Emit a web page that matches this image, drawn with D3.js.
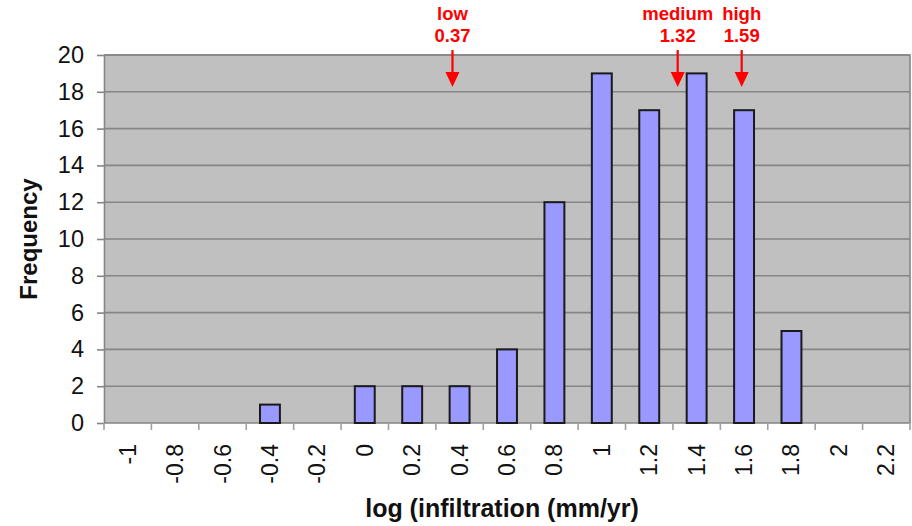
<!DOCTYPE html>
<html>
<head>
<meta charset="utf-8">
<script src="https://cdn.jsdelivr.net/npm/d3@7"></script>
<style>
  html, body { margin: 0; padding: 0; background: #fff; }
  svg { display: block; font-family: "Liberation Sans", Arial, sans-serif; }
</style>
</head>
<body>
<svg id="chart" width="912" height="526"></svg>
<script>
// Histogram bins (log of infiltration, mm/yr) and their counts
const categories = ["-1", "-0.8", "-0.6", "-0.4", "-0.2", "0", "0.2", "0.4", "0.6", "0.8", "1", "1.2", "1.4", "1.6", "1.8", "2", "2.2"];
const frequency  = [0, 0, 0, 1, 0, 2, 2, 2, 4, 12, 19, 17, 19, 17, 5, 0, 0];
const yTicks = [0, 2, 4, 6, 8, 10, 12, 14, 16, 18, 20];

// Marked infiltration scenarios
const markerNames  = ["low", "medium", "high"];
const markerValues = [0.37, 1.32, 1.59];

const svg = d3.select("#chart");
const plot = { left: 104, right: 910, top: 55, bottom: 423 };

const x = d3.scaleBand()
  .domain(categories)
  .range([plot.left, plot.right])
  .paddingInner(0).paddingOuter(0);

const y = d3.scaleLinear().domain([0, 20]).range([plot.bottom, plot.top]);

// Continuous position along the binned axis (bin centres)
const xVal = d3.scaleLinear()
  .domain([+categories[0], +categories[categories.length - 1]])
  .range([x(categories[0]) + x.bandwidth() / 2,
          x(categories[categories.length - 1]) + x.bandwidth() / 2]);

// Plot background
svg.append("rect")
  .attr("x", plot.left).attr("y", plot.top)
  .attr("width", plot.right - plot.left).attr("height", plot.bottom - plot.top)
  .attr("fill", "#c0c0c0");

// Horizontal gridlines
svg.append("g").selectAll("line")
  .data(yTicks.filter(d => d > 0))
  .join("line")
  .attr("x1", plot.left).attr("x2", plot.right)
  .attr("y1", d => y(d)).attr("y2", d => y(d))
  .attr("stroke", "#858585").attr("stroke-width", 1.6);

// Plot frame (top / right)
svg.append("path")
  .attr("d", `M${plot.left},${plot.top}H${plot.right}V${plot.bottom}`)
  .attr("fill", "none").attr("stroke", "#858585").attr("stroke-width", 1.6);

// Y axis
const yAxis = svg.append("g")
  .attr("transform", `translate(${plot.left},0)`)
  .call(d3.axisLeft(y).tickValues(yTicks).tickSize(7).tickPadding(13).tickSizeOuter(0));
yAxis.select(".domain").attr("stroke", "#858585").attr("stroke-width", 1.6);
yAxis.selectAll(".tick line").attr("stroke", "#858585").attr("stroke-width", 1.6);
yAxis.selectAll(".tick text")
  .attr("font-size", 23.5).attr("fill", "#111")
  .style("font-family", "Liberation Sans, Arial, sans-serif");

// X axis: ticks at bin boundaries, labels rotated
const xAxisG = svg.append("g").attr("transform", `translate(0,${plot.bottom})`);
xAxisG.append("line")
  .attr("x1", plot.left).attr("x2", plot.right)
  .attr("stroke", "#858585").attr("stroke-width", 1.6);
const boundaries = categories.map(c => x(c)).concat([plot.right]);
xAxisG.selectAll("line.tk")
  .data(boundaries)
  .join("line").attr("class", "tk")
  .attr("x1", d => d).attr("x2", d => d)
  .attr("y1", 0).attr("y2", 7)
  .attr("stroke", "#a0a0a0").attr("stroke-width", 1.6);
xAxisG.selectAll("text.lbl")
  .data(categories)
  .join("text").attr("class", "lbl")
  .attr("transform", d => `translate(${x(d) + x.bandwidth() / 2 + 8},21) rotate(-90)`)
  .attr("text-anchor", "end")
  .attr("font-size", 23).attr("fill", "#111")
  .text(d => d);

// Bars
const barW = x.bandwidth() * 0.42;
svg.append("g").selectAll("rect")
  .data(categories.map((c, i) => ({ c, v: frequency[i] })).filter(d => d.v > 0))
  .join("rect")
  .attr("x", d => x(d.c) + (x.bandwidth() - barW) / 2)
  .attr("width", barW)
  .attr("y", d => y(d.v))
  .attr("height", d => y(0) - y(d.v))
  .attr("fill", "#9999ff")
  .attr("stroke", "#1a1a1a").attr("stroke-width", 2);

// Axis titles
svg.append("text")
  .attr("x", 502).attr("y", 517)
  .attr("text-anchor", "middle")
  .attr("font-size", 25).attr("font-weight", "bold").attr("fill", "#111")
  .text("log (infiltration (mm/yr)");

svg.append("text")
  .attr("transform", "translate(37,239) rotate(-90)")
  .attr("text-anchor", "middle")
  .attr("font-size", 24).attr("font-weight", "bold").attr("fill", "#111")
  .text("Frequency");

// Scenario markers: labels and downward arrows
const mk = svg.append("g").selectAll("g")
  .data(markerNames.map((n, i) => ({ n, v: markerValues[i] })))
  .join("g")
  .attr("transform", d => `translate(${xVal(d.v)},0)`);
mk.append("text")
  .attr("y", 20).attr("text-anchor", "middle")
  .attr("font-size", 18.5).attr("font-weight", "bold").attr("fill", "#ff0000")
  .text(d => d.n);
mk.append("text")
  .attr("y", 42).attr("text-anchor", "middle")
  .attr("font-size", 18.5).attr("font-weight", "bold").attr("fill", "#ff0000")
  .text(d => d.v.toFixed(2));
mk.append("line")
  .attr("x1", 0).attr("x2", 0).attr("y1", 50).attr("y2", 75)
  .attr("stroke", "#ff0000").attr("stroke-width", 2.2);
mk.append("path")
  .attr("d", "M-7,72L7,72L0,87Z")
  .attr("fill", "#ff0000");
</script>
</body>
</html>
